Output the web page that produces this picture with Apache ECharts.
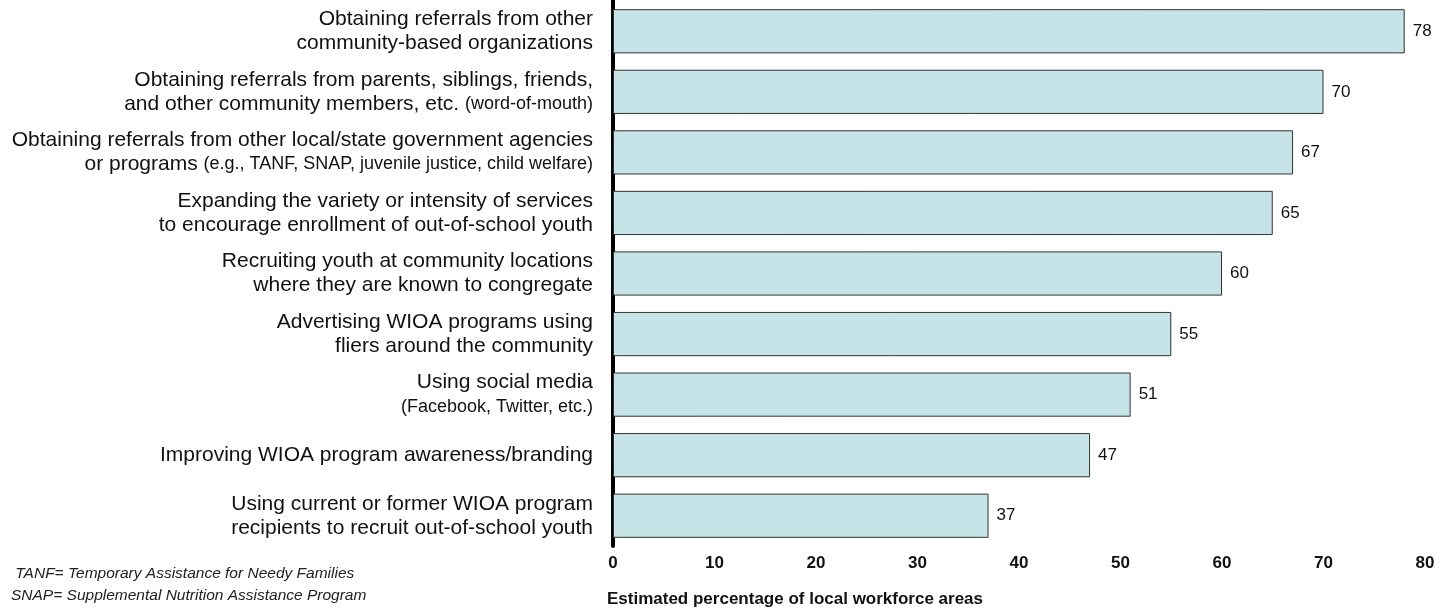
<!DOCTYPE html>
<html>
<head>
<meta charset="utf-8">
<script src="https://cdn.jsdelivr.net/npm/echarts@6/dist/echarts.min.js"></script>
<style>
  html, body { margin: 0; padding: 0; background: #fff; }
  #main { width: 1451px; height: 610px; }
</style>
</head>
<body>
<div id="main"></div>
<script>
// strategies, top to bottom; text in parentheses is drawn smaller
var categories = [
  'Obtaining referrals from other\ncommunity-based organizations',
  'Obtaining referrals from parents, siblings, friends,\nand other community members, etc. (word-of-mouth)',
  'Obtaining referrals from other local/state government agencies\nor programs (e.g., TANF, SNAP, juvenile justice, child welfare)',
  'Expanding the variety or intensity of services\nto encourage enrollment of out-of-school youth',
  'Recruiting youth at community locations\nwhere they are known to congregate',
  'Advertising WIOA programs using\nfliers around the community',
  'Using social media\n(Facebook, Twitter, etc.)',
  'Improving WIOA program awareness/branding',
  'Using current or former WIOA program\nrecipients to recruit out-of-school youth'
];
var values = [78, 70, 67, 65, 60, 55, 51, 47, 37];
var xTicks = [0, 10, 20, 30, 40, 50, 60, 70, 80];
var footnotes = [
  ' TANF= Temporary Assistance for Needy Families',
  'SNAP= Supplemental Nutrition Assistance Program'
];
var axisTitle = 'Estimated percentage of local workforce areas';

var font = '"Liberation Sans", Arial, sans-serif';

function richLabel(value) {
  return value.split('\n').map(function (line) {
    var i = line.indexOf('(');
    if (i < 0) return '{a|' + line + '}';
    var head = line.slice(0, i);
    var tail = line.slice(i);
    return (head ? '{a|' + head + '}' : '') + '{b|' + tail + '}';
  }).join('\n');
}

var myChart = echarts.init(document.getElementById('main'));

myChart.setOption({
  backgroundColor: '#fff',
  animation: false,
  grid: {
    left: 613,
    right: 26,
    top: 1,
    bottom: 64
  },
  xAxis: {
    type: 'value',
    min: xTicks[0],
    max: xTicks[xTicks.length - 1],
    interval: 10,
    axisLine: { show: false },
    axisTick: { show: false },
    splitLine: { show: false },
    axisLabel: {
      margin: 9,
      color: '#111',
      fontFamily: font,
      fontSize: 17,
      fontWeight: 'bold'
    }
  },
  yAxis: {
    type: 'category',
    inverse: true,
    data: categories,
    axisLine: { show: true, lineStyle: { color: '#000', width: 4 } },
    axisTick: { show: false },
    axisLabel: {
      margin: 20,
      formatter: richLabel,
      rich: {
        a: { fontFamily: font, fontSize: 21, color: '#111', lineHeight: 24 },
        b: { fontFamily: font, fontSize: 18, color: '#111', lineHeight: 24 }
      }
    }
  },
  series: [{
    type: 'bar',
    data: values,
    barCategoryGap: '27%',
    itemStyle: {
      color: '#c6e4e7',
      borderColor: '#333',
      borderWidth: 1
    },
    label: {
      show: true,
      position: 'right',
      distance: 8,
      color: '#111',
      fontFamily: font,
      fontSize: 17
    }
  }],
  graphic: [
    {
      type: 'text',
      left: 607,
      top: 591,
      style: {
        text: axisTitle,
        fontFamily: font,
        fontSize: 17,
        fontWeight: 'bold',
        fill: '#111'
      }
    },
    {
      type: 'text',
      left: 11,
      top: 563,
      style: {
        text: footnotes.join('\n'),
        fontFamily: font,
        fontSize: 15.5,
        fontStyle: 'italic',
        lineHeight: 22,
        fill: '#222'
      }
    }
  ]
});
</script>
</body>
</html>
